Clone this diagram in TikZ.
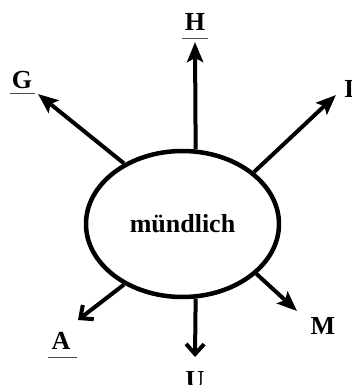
\documentclass[tikz,border=0pt]{standalone}
\usepackage{fontspec}
\setmainfont{Liberation Serif}
\usetikzlibrary{arrows.meta,shapes.geometric}
\begin{document}
\begin{tikzpicture}[x=1pt, y=-1pt,
    letter/.style={font=\fontsize{26}{30}\selectfont\bfseries, inner sep=0pt},
    full/.style={line width=4pt, -{Stealth[length=20pt, width=16pt, inset=4pt]}},
    open/.style={line width=4pt, -{Straight Barb[length=10pt, width=18pt]}},
    uline/.style={line width=1pt, black!70}]
    \useasboundingbox (0, 0) rectangle (351, 385);

    % Ellipse
    \node[ellipse, draw, line width=4.5pt, minimum width=193pt, minimum height=146pt,
          inner sep=0pt, font=\fontsize{26}{30}\selectfont\bfseries] (oral) at (182.5, 224) {mündlich};

    % Arrow tips
    \coordinate (tipH) at (195, 42);
    \coordinate (tipG) at (38, 94);
    \coordinate (tipI) at (336, 95);
    \coordinate (tipM) at (297, 311);
    \coordinate (tipU) at (195, 357);
    \coordinate (tipA) at (78, 320);

    % Arrows
    \draw[full] (oral.80) -- (tipH);
    \draw[full] (oral.134) -- (tipG);
    \draw[full] (oral.36) -- (tipI);
    \draw[full] (oral.-34) -- (tipM);
    \draw[open] (oral.-80.5) -- (tipU);
    \draw[open] (oral.-134) -- (tipA);

    % Letters
    \node[letter] (lblH) at (195, 22) {H};
    \node[letter] (lblG) at (22, 80) {G};
    \node[letter, anchor=west] (lblI) at (344, 89) {I};
    \node[letter] (lblM) at (323, 326) {M};
    \node[letter] (lblU) at (195, 380) {U};
    \node[letter] (lblA) at (61, 341) {A};

    % Underlines
    \draw[uline] ([xshift=-13pt, yshift=-8pt]lblH.south) -- ([xshift=13pt, yshift=-8pt]lblH.south);
    \draw[uline] ([xshift=-12pt, yshift=-5pt]lblG.south) -- ([xshift=13pt, yshift=-5pt]lblG.south);
    \draw[uline] ([xshift=-13pt, yshift=-8pt]lblA.south) -- ([xshift=16pt, yshift=-8pt]lblA.south);
\end{tikzpicture}
\end{document}
